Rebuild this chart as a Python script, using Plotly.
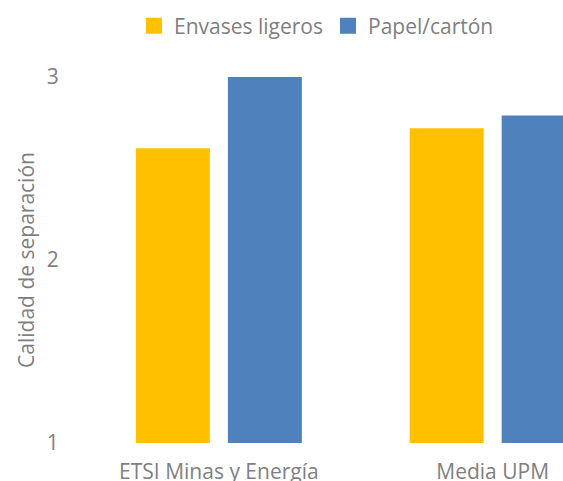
import plotly.graph_objects as go

categories = ["ETSI Minas y Energía", "Media UPM"]
envases = [2.61, 2.72]
papel = [3.0, 2.79]
y_ticks = [1, 2, 3]
series_names = ["Envases ligeros", "Papel/cartón"]
series_colors = ["#FFC000", "#4F81BD"]

FONT = "Open Sans"
GREY = "#7f7f7f"
FS = 21

fig = go.Figure()
for name, vals, col in zip(series_names, [envases, papel], series_colors):
    fig.add_trace(go.Bar(name=name, x=categories, y=[v - 1 for v in vals], base=1,
                         marker=dict(color=col, line=dict(width=0)), showlegend=False))
# legend entries (larger square swatches)
for name, col in zip(series_names, series_colors):
    fig.add_trace(go.Scatter(name=name, x=[None], y=[None], mode="markers",
                             marker=dict(symbol="square", size=18, color=col),
                             showlegend=True, hoverinfo="skip"))

W, H = 563, 481
fig.update_layout(
    width=W, height=H,
    margin=dict(l=82, r=0, t=77, b=38, autoexpand=False),
    paper_bgcolor="white", plot_bgcolor="white",
    barmode="group", bargap=0.328, bargroupgap=0.196,
    font=dict(family=FONT, color=GREY, size=FS),
    legend=dict(orientation="h", x=134 / W, xanchor="left", xref="container",
                y=1 - 26 / H, yanchor="middle", yref="container",
                font=dict(size=FS, color=GREY), itemwidth=30, tracegroupgap=0,
                bgcolor="rgba(0,0,0,0)"),
    xaxis=dict(range=[-0.5, 1.257], showgrid=False, showline=False, zeroline=False,
               automargin=False, ticks="outside", ticklen=10,
               tickcolor="rgba(0,0,0,0)", tickfont=dict(size=FS, color=GREY)),
    yaxis=dict(range=[1, 3], tickvals=y_ticks, showgrid=False, showline=False,
               zeroline=False, automargin=False, ticks="outside", ticklen=18,
               tickcolor="rgba(0,0,0,0)", tickfont=dict(size=FS, color=GREY),
               title=dict(text="Calidad de separación", font=dict(size=FS, color=GREY),
                          standoff=6)),
)

fig.write_html(
    "out.html",
    config={"displayModeBar": False},
    post_script="document.body.style.margin='0px';document.body.style.overflow='hidden';",
)
